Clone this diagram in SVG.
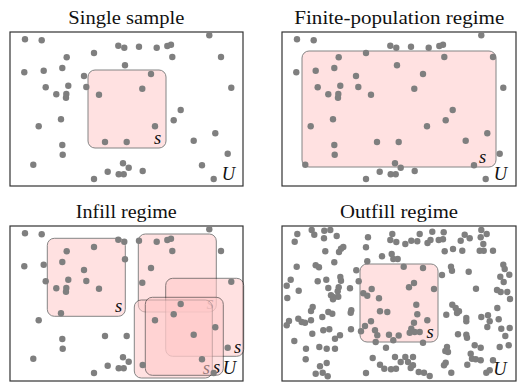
<svg xmlns="http://www.w3.org/2000/svg" xmlns:xlink="http://www.w3.org/1999/xlink" width="532" height="391" viewBox="0 0 532 391">
<style>
.bg{fill:#ffffff}
.frame{fill:none;stroke:#333333;stroke-width:1.2}
.dots circle{fill:#7f7f7f;r:3.2px}
.box{fill:#ffc9c9;stroke:#222222;stroke-width:1;opacity:0.55}
.title{font-family:"Liberation Serif","DejaVu Serif",serif;font-size:18px;fill:#111111;text-anchor:middle}
.lab{font-family:"Liberation Serif","DejaVu Serif",serif;font-style:italic;font-size:18.5px;fill:#111111;text-anchor:middle}
</style>
<defs>
<g id="pts" class="dots">
<circle cx="25" cy="39.3" r="3"/><circle cx="41.7" cy="40.3" r="3"/><circle cx="209.3" cy="35.3" r="3"/><circle cx="118.3" cy="45.7" r="3"/><circle cx="124.3" cy="47.7" r="3"/><circle cx="139" cy="46.7" r="3"/><circle cx="156.7" cy="47.7" r="3"/><circle cx="167.3" cy="46" r="3"/><circle cx="171" cy="44.7" r="3"/><circle cx="94" cy="53" r="3"/><circle cx="66.7" cy="57.3" r="3"/><circle cx="172.3" cy="57" r="3"/><circle cx="221" cy="57" r="3"/><circle cx="125" cy="65.3" r="3"/><circle cx="62.3" cy="68" r="3"/><circle cx="43.7" cy="70.7" r="3"/><circle cx="24.3" cy="72.3" r="3"/><circle cx="151" cy="74" r="3"/><circle cx="84" cy="76" r="3"/><circle cx="68.3" cy="85.7" r="3"/><circle cx="45.7" cy="87.3" r="3"/><circle cx="86.3" cy="87" r="3"/><circle cx="142.3" cy="88.7" r="3"/><circle cx="231.3" cy="87.7" r="3"/><circle cx="56.3" cy="94.3" r="3"/><circle cx="66.3" cy="94" r="3"/><circle cx="66" cy="97.7" r="3"/><circle cx="99" cy="94.7" r="3"/><circle cx="180.7" cy="110" r="3"/><circle cx="61" cy="119.3" r="3"/><circle cx="173.7" cy="120.3" r="3"/><circle cx="38.7" cy="126.3" r="3"/><circle cx="155" cy="126.3" r="3"/><circle cx="215.3" cy="133.3" r="3"/><circle cx="193.7" cy="140.7" r="3"/><circle cx="105" cy="142" r="3"/><circle cx="126.7" cy="142" r="3"/><circle cx="62.3" cy="145" r="3"/><circle cx="62.7" cy="154.7" r="3"/><circle cx="227.7" cy="153.7" r="3"/><circle cx="33.3" cy="164.7" r="3"/><circle cx="123" cy="163.3" r="3"/><circle cx="128.7" cy="167.7" r="3"/><circle cx="202" cy="165.3" r="3"/><circle cx="107.7" cy="171.7" r="3"/><circle cx="118.7" cy="174.3" r="3"/><circle cx="123.7" cy="174.3" r="3"/><circle cx="142.7" cy="171" r="3"/><circle cx="94" cy="179" r="3"/><circle cx="213.7" cy="179" r="3"/>
</g>
</defs>
<rect class="bg" x="0" y="0" width="532" height="391"/>

<g id="panel-single">
<text class="title" x="126.3" y="24" textLength="116" lengthAdjust="spacingAndGlyphs">Single sample</text>
<rect class="frame" x="10" y="32" width="233" height="154"/>
<g id="single-s"><rect class="box" x="88" y="70" width="78" height="78" rx="7"/><text class="lab" x="157.7" y="143.5">s</text></g>
<use xlink:href="#pts" href="#pts"/>
<text class="lab" x="228.5" y="180">U</text>
</g>

<g id="panel-finite">
<text class="title" x="399.3" y="24" textLength="210" lengthAdjust="spacingAndGlyphs">Finite-population regime</text>
<rect class="frame" x="282" y="32" width="234" height="154"/>
<g id="finite-s"><rect class="box" x="302" y="51" width="194" height="116" rx="7"/><text class="lab" x="482.5" y="163">s</text></g>
<use xlink:href="#pts" href="#pts" transform="translate(272,0)"/>
<text class="lab" x="500.5" y="180">U</text>
</g>

<g id="panel-infill">
<text class="title" x="126.3" y="218" textLength="101" lengthAdjust="spacingAndGlyphs">Infill regime</text>
<rect class="frame" x="10" y="226" width="233" height="155"/>
<g id="infill-s1"><rect class="box" x="47.3" y="238.3" width="78" height="78" rx="7"/><text class="lab" x="118.5" y="312">s</text></g>
<g id="infill-s2"><rect class="box" x="138.3" y="234" width="78" height="78" rx="7"/><text class="lab" x="210" y="308.5">s</text></g>
<g id="infill-s3"><rect class="box" x="165.7" y="278.3" width="78" height="78" rx="7"/><text class="lab" x="237.5" y="353">s</text></g>
<g id="infill-s4"><rect class="box" x="134.3" y="300" width="78" height="78" rx="7"/><text class="lab" x="206.3" y="374">s</text></g>
<g id="infill-s5"><rect class="box" x="145.3" y="297.3" width="78" height="78" rx="7"/><text class="lab" x="216.7" y="373">s</text></g>
<use xlink:href="#pts" href="#pts" transform="translate(0,194)"/>
<text class="lab" x="229.5" y="374">U</text>
</g>

<g id="panel-outfill">
<text class="title" x="399" y="218" textLength="118" lengthAdjust="spacingAndGlyphs">Outfill regime</text>
<rect class="frame" x="282" y="226" width="234" height="155"/>
<g id="outfill-s"><rect class="box" x="360" y="264" width="78" height="78" rx="7"/><text class="lab" x="430" y="337.5">s</text></g>
<g class="dots">
<circle cx="297.3" cy="234" r="3"/><circle cx="311.7" cy="230" r="3"/><circle cx="314.3" cy="234.7" r="3"/><circle cx="324.3" cy="230.7" r="3"/><circle cx="330.3" cy="230" r="3"/><circle cx="336.7" cy="236" r="3"/><circle cx="324" cy="238.3" r="3"/><circle cx="294.7" cy="241.7" r="3"/><circle cx="368" cy="237.3" r="3"/><circle cx="392.3" cy="234" r="3"/><circle cx="390.3" cy="240" r="3"/><circle cx="396.3" cy="242" r="3"/><circle cx="325.3" cy="251.3" r="3"/><circle cx="339" cy="252" r="3"/><circle cx="341" cy="248.7" r="3"/><circle cx="343.3" cy="247" r="3"/><circle cx="366" cy="247.3" r="3"/><circle cx="382" cy="256.3" r="3"/><circle cx="391.7" cy="254" r="3"/><circle cx="393.3" cy="259" r="3"/><circle cx="397.7" cy="259" r="3"/><circle cx="367.3" cy="261.3" r="3"/><circle cx="296.7" cy="266.7" r="3"/><circle cx="315.7" cy="265.3" r="3"/><circle cx="319" cy="267.3" r="3"/><circle cx="334.3" cy="262.3" r="3"/><circle cx="356.3" cy="270.3" r="3"/><circle cx="290.7" cy="279.7" r="3"/><circle cx="286.7" cy="285.7" r="3"/><circle cx="317.7" cy="281.3" r="3"/><circle cx="326.3" cy="279.7" r="3"/><circle cx="340.3" cy="277" r="3"/><circle cx="341" cy="280.7" r="3"/><circle cx="358.7" cy="281.3" r="3"/><circle cx="298.7" cy="290.7" r="3"/><circle cx="328.3" cy="288" r="3"/><circle cx="338.7" cy="287.3" r="3"/><circle cx="337.7" cy="291.3" r="3"/><circle cx="350" cy="288.3" r="3"/><circle cx="331" cy="295.3" r="3"/><circle cx="334" cy="297.3" r="3"/><circle cx="338.3" cy="296.7" r="3"/><circle cx="333" cy="299.3" r="3"/><circle cx="363.3" cy="293.3" r="3"/><circle cx="367.3" cy="295.7" r="3"/><circle cx="371.7" cy="289" r="3"/><circle cx="379" cy="298.3" r="3"/><circle cx="287.3" cy="298" r="3"/>
<circle cx="419.7" cy="234" r="3"/><circle cx="432.3" cy="231.7" r="3"/><circle cx="443.7" cy="232.3" r="3"/><circle cx="405.3" cy="244" r="3"/><circle cx="411.3" cy="240.7" r="3"/><circle cx="417.3" cy="241.3" r="3"/><circle cx="427.5" cy="243" r="3"/><circle cx="430.5" cy="240" r="3"/><circle cx="438.7" cy="240" r="3"/><circle cx="443" cy="239.3" r="3"/><circle cx="460.7" cy="240.7" r="3"/><circle cx="464.7" cy="234.7" r="3"/><circle cx="469.7" cy="238.3" r="3"/><circle cx="481.3" cy="230" r="3"/><circle cx="486.7" cy="234" r="3"/><circle cx="480.7" cy="237.3" r="3"/><circle cx="483.3" cy="244" r="3"/><circle cx="479.7" cy="250.7" r="3"/><circle cx="483.7" cy="250.7" r="3"/><circle cx="493" cy="250.7" r="3"/><circle cx="444.7" cy="251.3" r="3"/><circle cx="453" cy="249" r="3"/><circle cx="462.3" cy="250.7" r="3"/><circle cx="403.7" cy="266.7" r="3"/><circle cx="423" cy="268" r="3"/><circle cx="451" cy="266.7" r="3"/><circle cx="452" cy="270.7" r="3"/><circle cx="442" cy="275" r="3"/><circle cx="468.7" cy="271.7" r="3"/><circle cx="503.3" cy="264.7" r="3"/><circle cx="504.7" cy="269" r="3"/><circle cx="509.3" cy="274.7" r="3"/><circle cx="500.3" cy="276.7" r="3"/><circle cx="503.7" cy="282" r="3"/><circle cx="414" cy="283" r="3"/><circle cx="409" cy="287.3" r="3"/><circle cx="434" cy="289" r="3"/><circle cx="476" cy="288.7" r="3"/><circle cx="497" cy="290" r="3"/><circle cx="500.7" cy="292" r="3"/><circle cx="507.3" cy="292" r="3"/><circle cx="510" cy="299" r="3"/>
<circle cx="312.7" cy="307" r="3"/><circle cx="311" cy="311" r="3"/><circle cx="328.3" cy="312" r="3"/><circle cx="332.3" cy="313.7" r="3"/><circle cx="322.3" cy="317" r="3"/><circle cx="351.3" cy="310.3" r="3"/><circle cx="350.7" cy="312.7" r="3"/><circle cx="380" cy="311.3" r="3"/><circle cx="387.3" cy="312" r="3"/><circle cx="298.3" cy="318.7" r="3"/><circle cx="301.7" cy="322" r="3"/><circle cx="305" cy="322.7" r="3"/><circle cx="311" cy="320.3" r="3"/><circle cx="289" cy="321" r="3"/><circle cx="286.7" cy="325.3" r="3"/><circle cx="371" cy="321.3" r="3"/><circle cx="365" cy="326" r="3"/><circle cx="351" cy="329.3" r="3"/><circle cx="361" cy="331.3" r="3"/><circle cx="375" cy="330.3" r="3"/><circle cx="377.3" cy="335.3" r="3"/><circle cx="389" cy="334.7" r="3"/><circle cx="398.7" cy="335.5" r="3"/><circle cx="393.3" cy="340.3" r="3"/><circle cx="375.7" cy="342" r="3"/><circle cx="323.3" cy="330.3" r="3"/><circle cx="329.3" cy="329.3" r="3"/><circle cx="312.3" cy="333.7" r="3"/><circle cx="340" cy="335.3" r="3"/><circle cx="335" cy="338.7" r="3"/><circle cx="294.3" cy="341" r="3"/><circle cx="306" cy="348.7" r="3"/><circle cx="319.3" cy="347" r="3"/><circle cx="326.7" cy="348.7" r="3"/><circle cx="335" cy="348.7" r="3"/><circle cx="305.7" cy="359.3" r="3"/><circle cx="326.7" cy="363" r="3"/><circle cx="320" cy="366.3" r="3"/><circle cx="315.7" cy="373.7" r="3"/><circle cx="322.7" cy="372.7" r="3"/><circle cx="327.7" cy="376.3" r="3"/><circle cx="366" cy="373" r="3"/><circle cx="372.7" cy="358" r="3"/><circle cx="380" cy="364.7" r="3"/><circle cx="384.3" cy="368.7" r="3"/><circle cx="391" cy="369.3" r="3"/><circle cx="396" cy="368.7" r="3"/><circle cx="386" cy="347.7" r="3"/><circle cx="395" cy="357" r="3"/>
<circle cx="416.3" cy="304.7" r="3"/><circle cx="417.3" cy="314.3" r="3"/><circle cx="427.3" cy="320.3" r="3"/><circle cx="414" cy="322.7" r="3"/><circle cx="411.3" cy="328.7" r="3"/><circle cx="409.7" cy="332.7" r="3"/><circle cx="414.7" cy="332" r="3"/><circle cx="419.7" cy="332" r="3"/><circle cx="423" cy="342.7" r="3"/><circle cx="452.3" cy="304.7" r="3"/><circle cx="455.7" cy="308" r="3"/><circle cx="459" cy="311.3" r="3"/><circle cx="457" cy="313" r="3"/><circle cx="446.3" cy="314.7" r="3"/><circle cx="466.3" cy="318" r="3"/><circle cx="466.3" cy="321.3" r="3"/><circle cx="481.3" cy="317" r="3"/><circle cx="488" cy="315.3" r="3"/><circle cx="489.7" cy="321.3" r="3"/><circle cx="497.3" cy="308" r="3"/><circle cx="498.7" cy="319.3" r="3"/><circle cx="487.3" cy="327" r="3"/><circle cx="501.3" cy="328.7" r="3"/><circle cx="509.7" cy="328" r="3"/><circle cx="505.3" cy="336" r="3"/><circle cx="458" cy="334.3" r="3"/><circle cx="466.3" cy="334.7" r="3"/><circle cx="467" cy="337.7" r="3"/><circle cx="447" cy="347" r="3"/><circle cx="445.3" cy="351" r="3"/><circle cx="448" cy="352" r="3"/><circle cx="474.7" cy="345.3" r="3"/><circle cx="480.7" cy="347.7" r="3"/><circle cx="499.7" cy="347" r="3"/><circle cx="508.7" cy="345.3" r="3"/><circle cx="470.7" cy="353.7" r="3"/><circle cx="475.7" cy="359.3" r="3"/><circle cx="480.7" cy="360.3" r="3"/><circle cx="472" cy="358.7" r="3"/><circle cx="493" cy="360.3" r="3"/><circle cx="445.7" cy="362.7" r="3"/><circle cx="444" cy="365.3" r="3"/><circle cx="467.3" cy="364.7" r="3"/><circle cx="405.3" cy="357" r="3"/><circle cx="413" cy="357" r="3"/><circle cx="408" cy="362" r="3"/><circle cx="413" cy="365.3" r="3"/><circle cx="410.7" cy="368" r="3"/><circle cx="418.7" cy="372" r="3"/><circle cx="424" cy="372.7" r="3"/><circle cx="429.7" cy="376" r="3"/><circle cx="451.3" cy="372.7" r="3"/><circle cx="486.3" cy="372.7" r="3"/><circle cx="489.7" cy="370.3" r="3"/><circle cx="400.7" cy="362" r="3"/>
</g>
<text class="lab" x="500" y="375">U</text>
</g>
</svg>
